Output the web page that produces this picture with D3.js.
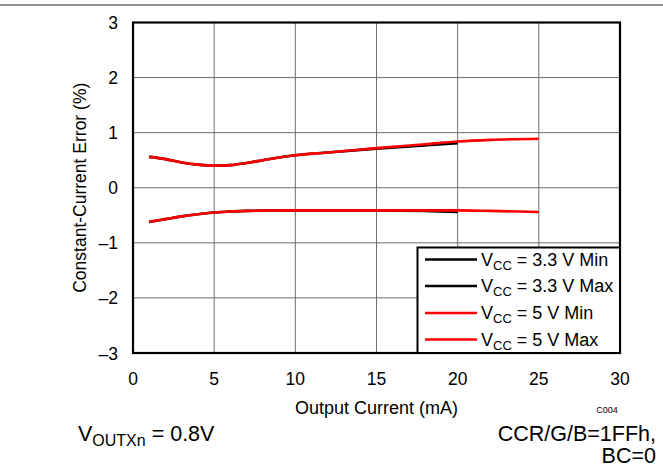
<!DOCTYPE html>
<html><head><meta charset="utf-8">
<script src="https://cdn.jsdelivr.net/npm/d3@7"></script>
<style>
body{margin:0;background:#fff;}
svg{display:block;font-family:"Liberation Sans",Arial,sans-serif;}
</style></head>
<body>
<svg id="c" width="663" height="468"></svg>
<script>
const xTicks = [0,5,10,15,20,25,30];
const yTicks = [-3,-2,-1,0,1,2,3];
const yTickLabels = ["\u20133","\u20132","\u20131","0","1","2","3"];

const x33 = [1,2,3,4,5,6,7,8,9,10,12,15,18,20];
const v33Max = [0.56,0.52,0.46,0.42,0.40,0.41,0.45,0.50,0.55,0.59,0.64,0.71,0.77,0.81];
const v33Min = [-0.62,-0.57,-0.52,-0.48,-0.45,-0.43,-0.42,-0.415,-0.41,-0.41,-0.41,-0.41,-0.42,-0.44];

const x5 = [1,2,3,4,5,6,7,8,9,10,12,15,18,20,22,25];
const v5Max = [0.56,0.52,0.46,0.42,0.40,0.41,0.45,0.50,0.55,0.59,0.64,0.72,0.79,0.84,0.87,0.89];
const v5Min = [-0.62,-0.57,-0.52,-0.48,-0.45,-0.43,-0.42,-0.415,-0.41,-0.41,-0.41,-0.41,-0.41,-0.41,-0.42,-0.44];

const seriesNames = ["3.3 V Min","3.3 V Max","5 V Min","5 V Max"];
const seriesColors = ["#000000","#000000","#ff0000","#ff0000"];
const seriesX = [x33,x33,x5,x5];
const seriesY = [v33Min,v33Max,v5Min,v5Max];

const svg = d3.select("#c");
const L=133,R=620,T=22.5,B=353;
const x = d3.scaleLinear().domain([0,30]).range([L,R]);
const y = d3.scaleLinear().domain([-3,3]).range([B,T]);

// top rule
svg.append("line").attr("x1",0).attr("x2",663).attr("y1",5).attr("y2",5).attr("stroke","#222").attr("stroke-width",1.2);

// grid
const g = svg.append("g");
g.selectAll(".vx").data(xTicks.slice(1,-1)).enter().append("line")
 .attr("x1",d=>x(d)).attr("x2",d=>x(d)).attr("y1",T).attr("y2",B)
 .attr("stroke","#6e6e6e").attr("stroke-width",1);
g.selectAll(".hy").data(yTicks.slice(1,-1)).enter().append("line")
 .attr("x1",L).attr("x2",R).attr("y1",d=>y(d)).attr("y2",d=>y(d))
 .attr("stroke","#6e6e6e").attr("stroke-width",1);

// lines
const line = d3.line().curve(d3.curveMonotoneX);
seriesNames.forEach((n,i)=>{
  const pts = seriesX[i].map((xv,j)=>[x(xv),y(seriesY[i][j])]);
  svg.append("path").attr("d",line(pts)).attr("fill","none")
   .attr("stroke",seriesColors[i]).attr("stroke-width",2.6);
});

// frame
svg.append("rect").attr("x",L).attr("y",T).attr("width",R-L).attr("height",B-T)
 .attr("fill","none").attr("stroke","#000").attr("stroke-width",2.2);

// tick labels
svg.selectAll(".xt").data(xTicks).enter().append("text")
 .attr("x",d=>x(d)).attr("y",385).attr("text-anchor","middle")
 .attr("font-size",17.5).text(d=>d);
svg.selectAll(".yt").data(yTicks).enter().append("text")
 .attr("x",118).attr("y",d=>y(d)+6.5).attr("text-anchor","end")
 .attr("font-size",17.5).text((d,i)=>yTickLabels[i]);

// axis titles
svg.append("text").attr("x",(L+R)/2).attr("y",414).attr("text-anchor","middle")
 .attr("font-size",18).text("Output Current (mA)");
svg.append("text").attr("transform",`translate(86,${(T+B)/2}) rotate(-90)`)
 .attr("text-anchor","middle").attr("font-size",17.5).text("Constant-Current Error (%)");

svg.append("text").attr("x",607).attr("y",413).attr("text-anchor","middle")
 .attr("font-size",9).text("C004");

// legend
const lg = svg.append("g");
lg.append("rect").attr("x",417.5).attr("y",247.5).attr("width",R-417.5).attr("height",B-247.5)
 .attr("fill","#fff").attr("stroke","#000").attr("stroke-width",2);
const rowY = [259.5,286,313,339.5];
seriesNames.forEach((n,i)=>{
  lg.append("line").attr("x1",425).attr("x2",477).attr("y1",rowY[i]).attr("y2",rowY[i])
   .attr("stroke",seriesColors[i]).attr("stroke-width",2.4);
  const t = lg.append("text").attr("x",481).attr("y",rowY[i]+6).attr("font-size",18);
  t.append("tspan").text("V");
  t.append("tspan").attr("font-size",13).attr("dy",4).text("CC");
  t.append("tspan").attr("dy",-4).text(" = "+n);
});

// footnotes
const f1 = svg.append("text").attr("x",78).attr("y",441).attr("font-size",21.5);
f1.append("tspan").text("V");
f1.append("tspan").attr("font-size",16).attr("dy",5).text("OUTXn");
f1.append("tspan").attr("dy",-5).text(" = 0.8V");
svg.append("text").attr("x",656).attr("y",441).attr("text-anchor","end").attr("font-size",21.5).text("CCR/G/B=1FFh,");
svg.append("text").attr("x",656).attr("y",463).attr("text-anchor","end").attr("font-size",21.5).text("BC=0");
</script>
</body></html>
